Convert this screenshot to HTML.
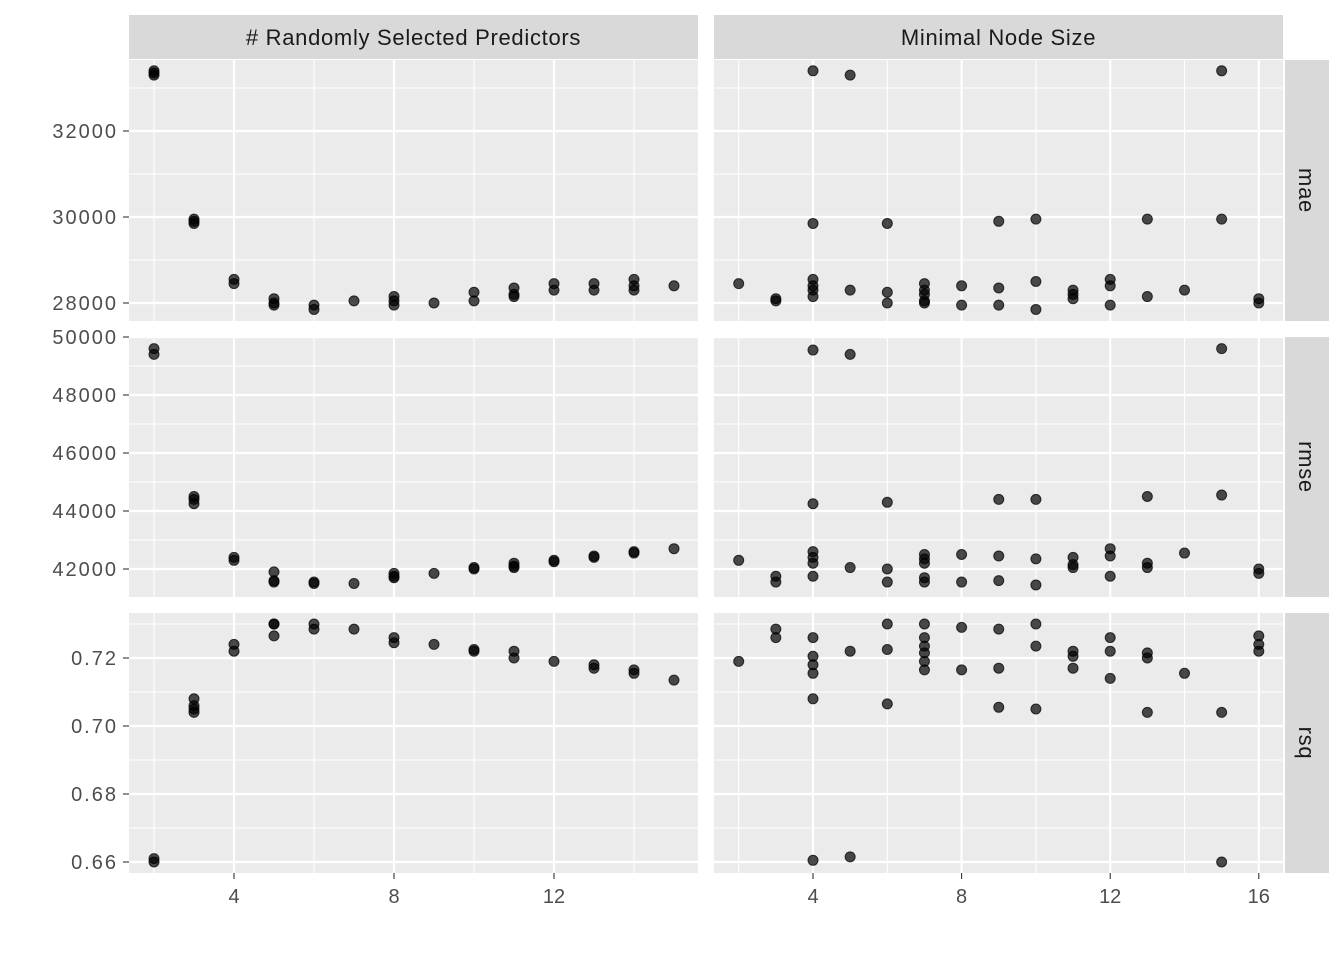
<!DOCTYPE html>
<html><head><meta charset="utf-8"><style>
body{margin:0;background:#fff;}
svg{display:block;font-family:"Liberation Sans",sans-serif;}
</style></head><body>
<svg id="chart" width="1344" height="960" xmlns="http://www.w3.org/2000/svg"></svg>
<script>
// Data: [x values], [y values] per panel
const colTitles = ["# Randomly Selected Predictors", "Minimal Node Size"];
const rowTitles = ["mae", "rmse", "rsq"];
const lMaeX = [2,2,2,3,3,3,4,4,5,5,5,6,6,7,8,8,8,9,10,10,11,11,11,12,12,13,13,14,14,14,15];
const lMaeY = [33400,33350,33300,29950,29900,29850,28550,28450,28100,28000,27950,27950,27850,28050,28150,28050,27950,28000,28250,28050,28350,28200,28150,28450,28300,28450,28300,28550,28400,28300,28400];
const lRmseX = [2,2,3,3,3,4,4,5,5,5,6,6,7,8,8,8,9,10,10,11,11,11,12,12,13,13,14,14,15];
const lRmseY = [49600,49400,44500,44400,44250,42400,42300,41900,41600,41550,41550,41500,41500,41850,41750,41700,41850,42050,42000,42200,42100,42050,42300,42250,42450,42400,42600,42550,42700];
const lRsqX = [2,2,3,3,3,3,4,4,5,5,5,6,6,7,8,8,9,10,10,11,11,12,13,13,14,14,15];
const lRsqY = [0.661,0.660,0.708,0.706,0.705,0.704,0.724,0.722,0.730,0.730,0.7265,0.730,0.7285,0.7285,0.726,0.7245,0.724,0.7225,0.722,0.722,0.720,0.719,0.718,0.717,0.7165,0.7155,0.7135];
const rMaeX = [2,3,3,4,4,4,4,4,4,5,5,6,6,6,7,7,7,7,7,8,8,9,9,9,10,10,10,11,11,11,12,12,12,13,13,14,15,15,16,16];
const rMaeY = [28450,28100,28050,33400,29850,28550,28400,28300,28150,33300,28300,29850,28250,28000,28450,28300,28200,28050,28000,28400,27950,29900,28350,27950,29950,28500,27850,28300,28200,28100,28550,28400,27950,29950,28150,28300,33400,29950,28100,28000];
const rRmseX = [2,3,3,4,4,4,4,4,4,5,5,6,6,6,7,7,7,7,7,8,8,9,9,9,10,10,10,11,11,11,12,12,12,13,13,13,14,15,15,16,16];
const rRmseY = [42300,41750,41550,49550,44250,42600,42400,42200,41750,49400,42050,44300,42000,41550,42500,42350,42200,41700,41550,42500,41550,44400,42450,41600,44400,42350,41450,42400,42150,42050,42700,42450,41750,44500,42200,42050,42550,49600,44550,42000,41850];
const rRsqX = [2,3,3,4,4,4,4,4,4,5,5,6,6,6,7,7,7,7,7,7,8,8,9,9,9,10,10,10,11,11,11,12,12,12,13,13,13,14,15,15,16,16,16];
const rRsqY = [0.719,0.7285,0.726,0.726,0.7205,0.718,0.7155,0.708,0.6605,0.722,0.6615,0.730,0.7225,0.7065,0.730,0.726,0.7235,0.7215,0.719,0.7165,0.729,0.7165,0.7285,0.717,0.7055,0.730,0.7235,0.705,0.722,0.7205,0.717,0.726,0.722,0.714,0.7215,0.720,0.704,0.7155,0.704,0.660,0.7265,0.724,0.722];
const yTicks = [[28000,30000,32000],[42000,44000,46000,48000,50000],[0.66,0.68,0.70,0.72]];
const yMinor = [[29000,31000,33000],[43000,45000,47000,49000],[0.67,0.69,0.71,0.73]];
const xTicksL = [4,8,12], xMinorL = [2,6,10,14];
const xTicksR = [4,8,12,16], xMinorR = [2,6,10,14];

const NS="http://www.w3.org/2000/svg";
const svg=document.getElementById('chart');
function mk(tag,attrs,parent){const e=document.createElementNS(NS,tag);for(const k in attrs)e.setAttribute(k,attrs[k]);(parent||svg).appendChild(e);return e;}
const cols=[{x0:129,x1:698,sx:v=>154+(v-2)*40},{x0:714,x1:1283,sx:v=>813+(v-4)*37.15}];
const rows=[{y0:60,y1:321,sy:v=>303-(v-28000)*0.043},{y0:337,y1:597,sy:v=>569-(v-42000)*0.029},{y0:613,y1:873,sy:v=>658-(v-0.72)*3400}];
const data=[[[lMaeX,lMaeY],[rMaeX,rMaeY]],[[lRmseX,lRmseY],[rRmseX,rRmseY]],[[lRsqX,lRsqY],[rRsqX,rRsqY]]];
const fmt=(r,v)=>r==2?v.toFixed(2):String(v);

cols.forEach((c,ci)=>{
  const s=mk('rect',{x:c.x0,y:15,width:c.x1-c.x0,height:44,fill:'#d9d9d9'});
  
  const t=mk('text',{x:(c.x0+c.x1)/2,y:45,'text-anchor':'middle','font-size':22,'letter-spacing':0.7,fill:'#1a1a1a'});
  t.textContent=colTitles[ci];
  
});
rows.forEach((r,ri)=>{
  const s=mk('rect',{x:1285,y:r.y0,width:44,height:r.y1-r.y0,fill:'#d9d9d9'});
  
  const cy=(r.y0+r.y1)/2;
  const t=mk('text',{x:1299,y:cy,'text-anchor':'middle','font-size':22,'letter-spacing':0.7,fill:'#1a1a1a',transform:`rotate(90 1299 ${cy})`});
  t.textContent=rowTitles[ri];
  
  cols.forEach((c,ci)=>{
    const g=mk('g',{});
    
    mk('rect',{x:c.x0,y:r.y0,width:c.x1-c.x0,height:r.y1-r.y0,fill:'#ebebeb'},g);
    yMinor[ri].forEach(v=>{const y=r.sy(v);if(y>r.y0&&y<r.y1)mk('line',{x1:c.x0,x2:c.x1,y1:y,y2:y,stroke:'#fff','stroke-width':1.1},g);});
    (ci?xMinorR:xMinorL).forEach(v=>{const x=c.sx(v);mk('line',{x1:x,x2:x,y1:r.y0,y2:r.y1,stroke:'#fff','stroke-width':1.1},g);});
    yTicks[ri].forEach(v=>{const y=r.sy(v);mk('line',{x1:c.x0,x2:c.x1,y1:y,y2:y,stroke:'#fff','stroke-width':2.2},g);});
    (ci?xTicksR:xTicksL).forEach(v=>{const x=c.sx(v);mk('line',{x1:x,x2:x,y1:r.y0,y2:r.y1,stroke:'#fff','stroke-width':2.2},g);});
    const [xs,ys]=data[ri][ci];
    xs.forEach((xv,i)=>{
      const p=mk('circle',{cx:c.sx(xv),cy:r.sy(ys[i]),r:5,fill:'rgba(0,0,0,0.7)',stroke:'rgba(0,0,0,0.75)','stroke-width':1},g);
      
    });
  });
  yTicks[ri].forEach(v=>{
    const y=r.sy(v);
    mk('line',{x1:123,x2:129,y1:y,y2:y,stroke:'#333','stroke-width':1.1});
    const t=mk('text',{x:118,y:y+7,'text-anchor':'end','font-size':20,'letter-spacing':2,fill:'#4d4d4d'});
    t.textContent=fmt(ri,v);
    
  });
});
cols.forEach((c,ci)=>{
  (ci?xTicksR:xTicksL).forEach(v=>{
    const x=c.sx(v);
    mk('line',{x1:x,x2:x,y1:873,y2:879,stroke:'#333','stroke-width':1.1});
    const t=mk('text',{x:x,y:903,'text-anchor':'middle','font-size':20,fill:'#4d4d4d'});
    t.textContent=v;
    
  });
});
</script>
</body></html>
